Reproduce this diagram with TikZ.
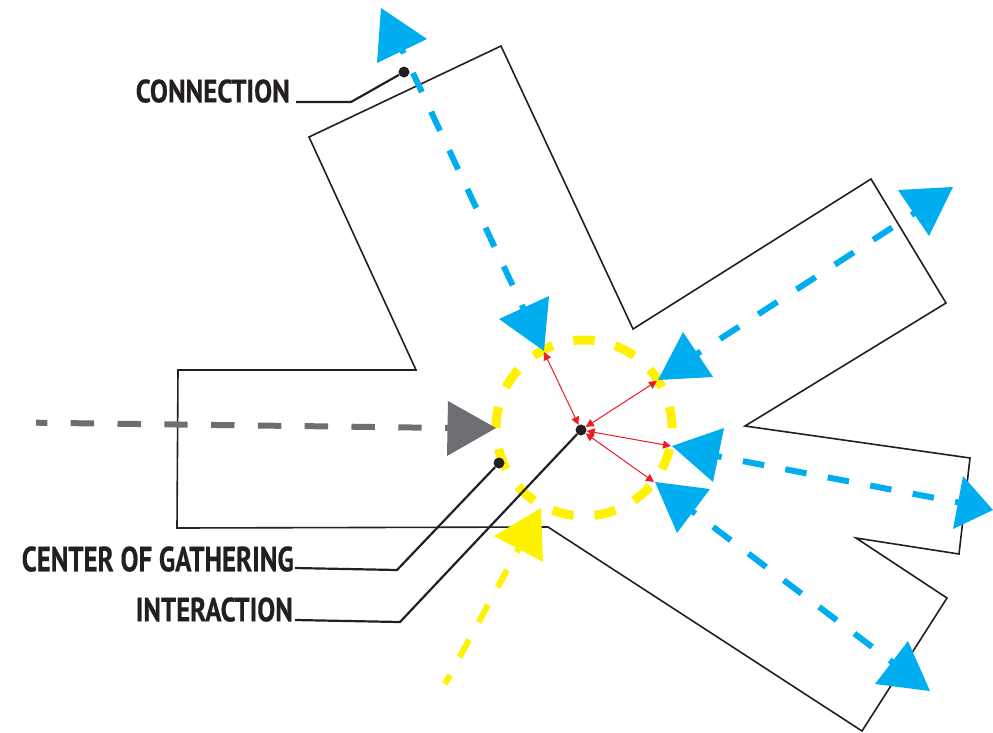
\documentclass[tikz,border=0pt]{standalone}
\usepackage{fontspec}
\setmainfont{Liberation Sans}
\newfontfamily\labfont[FakeBold=0.5]{PT Sans Bold}
\usetikzlibrary{arrows.meta}
\definecolor{ink}{HTML}{231F20}
\definecolor{cyanb}{HTML}{00AEEF}
\definecolor{grayb}{HTML}{6D6E71}
\definecolor{yell}{HTML}{FFF200}
\definecolor{redb}{HTML}{ED1C24}
\tikzset{
 outline/.style={draw=ink,line width=1.6pt,line join=miter},
 bluedash/.style={draw=cyanb,line width=6pt},
 graydash/.style={draw=grayb,line width=6pt,dash pattern=on 23.4pt off 23.4pt,dash phase=12.1pt},
 yelldash/.style={draw=yell,line width=6pt,dash pattern=on 19.6pt off 20.2pt},
 ringdash/.style={draw=yell,line width=9pt},
 leader/.style={draw=ink,line width=2.2pt,line join=miter},
 interact/.style={draw=redb,line width=1pt,{Triangle[length=8pt,width=8pt]}-{Triangle[length=8pt,width=8pt]}},
 dot/.style={circle,fill=ink,inner sep=0pt,minimum size=11pt},
 lab/.style={inner sep=0pt,text=ink,font=\labfont,anchor=south east},
}
\newcommand{\fitlabel}[3]{\resizebox{#1pt}{#2pt}{#3}}
\begin{document}
\begin{tikzpicture}[x=1pt,y=-1pt]
\useasboundingbox (0,0) rectangle (993,732);
% building outline
\draw[outline] (501,46) -- (633,329) -- (871,179) -- (946,303) -- (745,426) -- (970,458) -- (959,554) -- (856,538) -- (947,598) -- (862,731) -- (548,527) -- (177,528) -- (178,370) -- (416,370) -- (309,137) -- cycle;
% ring of the gathering
\foreach \i in {0,...,12}{
  \pgfmathsetmacro\a{90-\i*27.69}
  \pgfmathsetmacro\aa{\a-7}
  \pgfmathsetmacro\ab{\a+7}
  \draw[ringdash] plot[domain=\aa:\ab,samples=8] ({584+88*cos(\x)},{428-88*sin(\x)});
}
% named end points of the flows
\coordinate (c1a) at (394.8,34.4);  \coordinate (c1b) at (527,316);
\coordinate (c2a) at (681.75,363.75); \coordinate (c2b) at (930,203);
\coordinate (c3a) at (700.5,453);   \coordinate (c3b) at (977,506);
\coordinate (c4a) at (677.75,500.25); \coordinate (c4b) at (908,674);
\coordinate (g1) at (36,422.7);   \coordinate (g2) at (452,428);
\coordinate (y1) at (526,535);  \coordinate (y2) at (445,684);
\draw[bluedash,dash pattern=on 21pt off 21.7pt] (c1a) -- (c1b);
\draw[bluedash,dash pattern=on 22.6pt off 23pt] (c2a) -- (c2b);
\draw[bluedash,dash pattern=on 21.6pt off 21.6pt] (c3a) -- (c3b);
\draw[bluedash,dash pattern=on 22.2pt off 22.05pt] (c4a) -- (c4b);
\draw[graydash] (g1) -- (g2);
\draw[yelldash] (y1) -- (y2);
% triangles
\fill[cyanb] (381,8) -- (427,39) -- (377,63) -- cycle;
\fill[cyanb] (499,319) -- (549,296) -- (544,351) -- cycle;
\fill[cyanb] (683,332) -- (713,377) -- (658,380) -- cycle;
\fill[cyanb] (898,190) -- (953,187) -- (929,236) -- cycle;
\fill[cyanb] (724,428) -- (713,482) -- (672,446) -- cycle;
\fill[cyanb] (963,476) -- (993,510) -- (953,529) -- cycle;
\fill[cyanb] (710,489) -- (677,533) -- (655,482) -- cycle;
\fill[cyanb] (908,641) -- (930,691) -- (875,684) -- cycle;
\fill[grayb] (448,401) -- (496,428) -- (447,456) -- cycle;
\fill[yell] (541,508) -- (543,562) -- (494,536) -- cycle;
% centre and interactions
\node[dot] (centre) at (581,430) {};
\node[dot] (gather) at (499,463) {};
\node[dot] (conn) at (404,72) {};
\coordinate (t1) at (544,352);
\coordinate (t2) at (657,381);
\coordinate (t3) at (671,446);
\coordinate (t4) at (654,482);
\foreach \t in {t1,t2,t3,t4}{ \draw[interact] (centre) -- (\t); }
% labels
\node[lab] (lconn) at (290,103) {\fitlabel{154}{23}{CONNECTION}};
\node[lab] (lgath) at (294,572) {\fitlabel{272}{25}{CENTER OF GATHERING}};
\node[lab] (linte) at (293,622) {\fitlabel{157}{24}{INTERACTION}};
\coordinate (k1) at (351,102); \coordinate (k2) at (397,570); \coordinate (k3) at (400,622);
\draw[leader] (296,102) -- (k1) -- (conn);
\draw[leader] (295,568) -- (k2) -- (gather);
\draw[leader] (295,620) -- (k3) -- (centre);
\end{tikzpicture}
\end{document}
